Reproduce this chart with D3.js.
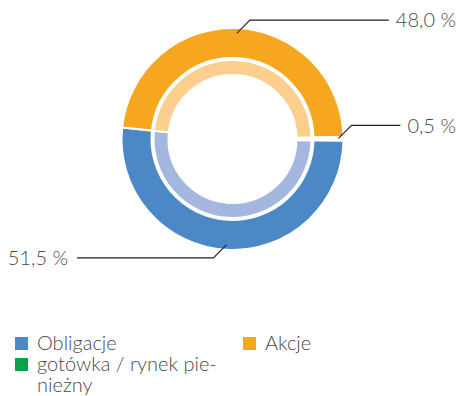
<!DOCTYPE html>
<html>
<head>
<meta charset="utf-8">
<script src="https://cdn.jsdelivr.net/npm/d3@7/dist/d3.min.js"></script>
<style>
  body { margin: 0; background: #fff; }
  svg text { font-family: Lato, "Open Sans", sans-serif; font-weight: 300; fill: #4a4a4a; }
</style>
</head>
<body>
<svg id="chart" width="459" height="396"></svg>
<script>
// Portfolio split: bonds, cash / money market, equities
const categories = ["Obligacje", "gotówka / rynek pieniężny", "Akcje"];
const shares = [51.5, 0.5, 48.0];
const valueLabels = ["51,5 %", "0,5 %", "48,0 %"];
const legendLines = [["Obligacje"], ["gotówka / rynek pie-", "nieżny"], ["Akcje"]];
const outerColors = ["#4d88c6", "#0aa14b", "#f6a71f"];
const innerColors = ["#a4b8df", "#8fd3a8", "#fccf8e"];

const svg = d3.select("#chart");
const cx = 232.5, cy = 139;
const deg = Math.PI / 180;
const start = 276 * deg;

// slices run counter-clockwise from just above 9 o'clock
const pie = d3.pie().sort(null).value(d => d)
  .startAngle(start).endAngle(start - 360 * deg);
const arcs = pie(shares);

const outerArc = d3.arc().innerRadius(81).outerRadius(111);
const innerArc = d3.arc().innerRadius(64).outerRadius(79);

const g = svg.append("g").attr("transform", `translate(${cx},${cy})`);

// thin slices get a wider white border
const borderWidth = d => (d.endAngle - d.startAngle) * -1 < 3 * deg ? 3.2 : 2;

g.selectAll("path.outer").data(arcs).join("path")
  .attr("class", "outer")
  .attr("d", outerArc)
  .attr("fill", (d, i) => outerColors[i])
  .attr("stroke", "#fff").attr("stroke-width", borderWidth);

g.selectAll("path.inner").data(arcs).join("path")
  .attr("class", "inner")
  .attr("d", innerArc)
  .attr("fill", (d, i) => innerColors[i])
  .attr("stroke", "#fff").attr("stroke-width", borderWidth);

// value labels with elbow connectors
const labelFont = 20;
const rightEdge = 456, leftEdge = 68;
arcs.forEach((a, i) => {
  const mid = (a.startAngle + a.endAngle) / 2;
  const rA = 106;
  const ax = cx + rA * Math.sin(mid), ay = cy - rA * Math.cos(mid);
  const right = Math.sin(mid) >= 0;
  const up = Math.cos(mid) > 0;
  const ex = ax + (right ? 13 : -13), ey = ay + (up ? -13 : 13);

  const t = svg.append("text")
    .attr("x", right ? rightEdge : leftEdge)
    .attr("y", ey)
    .attr("dy", "0.36em")
    .attr("text-anchor", "end")
    .style("font-size", labelFont + "px")
    .text(valueLabels[i]);
  const w = t.node().getComputedTextLength();
  const lx = right ? rightEdge - w - 7 : leftEdge + 9;

  svg.insert("path", "text")
    .attr("d", d3.line()([[ax, ay], [ex, ey], [lx, ey]]))
    .attr("fill", "none")
    .attr("stroke", "#222")
    .attr("stroke-width", 1.2);
});

// legend
const legendPos = [[15, 350], [15, 371], [243, 350]];
const sq = 13;
categories.forEach((c, i) => {
  const [x, y] = legendPos[i];
  svg.append("rect")
    .attr("x", x).attr("y", y - 13)
    .attr("width", sq).attr("height", sq)
    .attr("fill", outerColors[i]);
  const t = svg.append("text")
    .attr("x", x + 22).attr("y", y)
    .style("font-size", "20px");
  legendLines[i].forEach((line, j) => {
    t.append("tspan").attr("x", x + 22).attr("dy", j === 0 ? 0 : 21).text(line);
  });
});
</script>
</body>
</html>
